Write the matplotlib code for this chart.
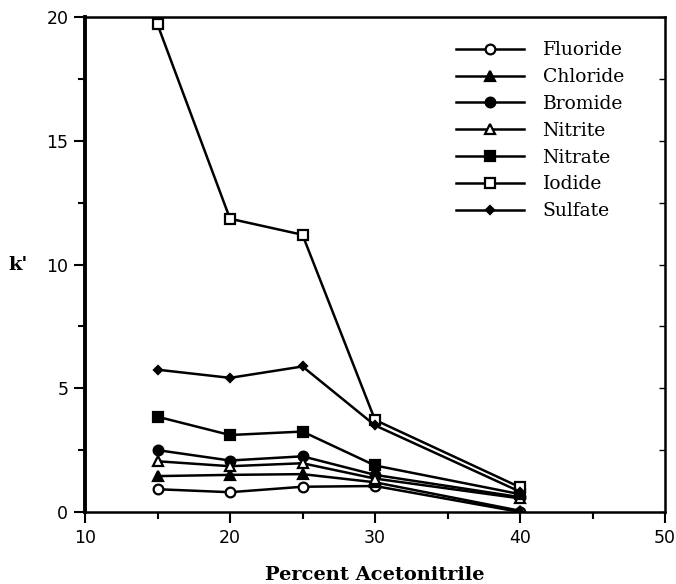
import matplotlib
matplotlib.use("Agg")
import matplotlib.pyplot as plt
from matplotlib.ticker import MultipleLocator

x = [15, 20, 25, 30, 40]
fluoride = [0.92, 0.80, 1.02, 1.05, 0.0]
chloride = [1.45, 1.50, 1.53, 1.20, 0.05]
bromide = [2.50, 2.08, 2.25, 1.50, 0.60]
nitrite = [2.05, 1.85, 1.97, 1.35, 0.55]
nitrate = [3.85, 3.11, 3.25, 1.88, 0.72]
iodide = [19.7, 11.85, 11.2, 3.72, 1.0]
sulfate = [5.75, 5.42, 5.88, 3.50, 0.82]

labels = ["Fluoride", "Chloride", "Bromide", "Nitrite", "Nitrate", "Iodide", "Sulfate"]
series = [fluoride, chloride, bromide, nitrite, nitrate, iodide, sulfate]
styles = [
    dict(marker="o", mfc="white", ms=7),
    dict(marker="^", mfc="black", ms=7),
    dict(marker="o", mfc="black", ms=7),
    dict(marker="^", mfc="white", ms=7),
    dict(marker="s", mfc="black", ms=7),
    dict(marker="s", mfc="white", ms=7),
    dict(marker="D", mfc="black", ms=4.5),
]

fig = plt.figure(figsize=(6.76, 5.84), dpi=100)
ax = fig.add_axes([85/676, 72/584, 580/676, 495/584])

for lab, ys, st in zip(labels, series, styles):
    ax.plot(x, ys, color="black", lw=1.8, marker=st["marker"], ms=st["ms"],
            mfc=st["mfc"], mec="black", mew=1.6, label=lab)

ax.set_xlim(10, 50)
ax.set_ylim(0, 20)
ax.xaxis.set_major_locator(MultipleLocator(10))
ax.xaxis.set_minor_locator(MultipleLocator(5))
ax.yaxis.set_major_locator(MultipleLocator(5))
ax.yaxis.set_minor_locator(MultipleLocator(2.5))
ax.tick_params(axis="both", which="major", direction="out", length=8, width=1.5,
               labelsize=12.5, pad=4)
ax.tick_params(axis="both", which="minor", direction="out", length=5, width=1.5)
ax.yaxis.set_tick_params(which="both", right=True, labelright=False)
ax.yaxis.set_ticks_position("both")
for t in ax.yaxis.get_major_ticks() + ax.yaxis.get_minor_ticks():
    t.tick2line.set_marker(matplotlib.lines.TICKLEFT)
    t.tick2line.set_markersize(4)
    t.tick2line.set_markeredgewidth(1.0)
ax.spines["left"].set_linewidth(2.8)
for s in ["bottom", "top", "right"]:
    ax.spines[s].set_linewidth(1.8)

ax.set_xlabel("Percent Acetonitrile", family="DejaVu Serif", fontweight="bold",
              fontsize=14, labelpad=14)
ax.set_ylabel("k'", family="DejaVu Serif", fontweight="bold", fontsize=14,
              rotation=0, labelpad=20, va="center")

leg = ax.legend(loc="upper right", frameon=False, prop={"family": "DejaVu Serif", "size": 13.5},
                handlelength=3.6, handletextpad=1.0, labelspacing=0.47,
                bbox_to_anchor=(0.958, 0.985))

fig.savefig("out.png", dpi=100)
